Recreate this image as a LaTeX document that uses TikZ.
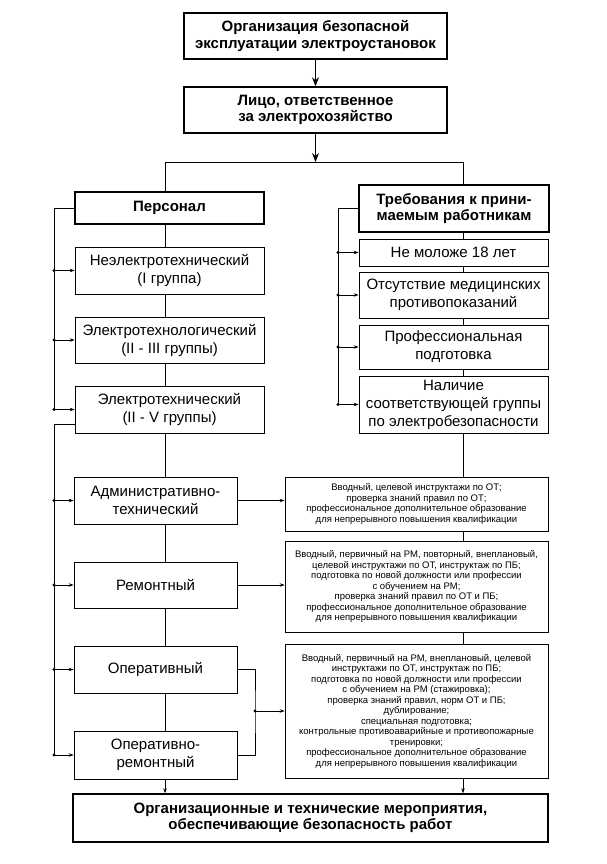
\documentclass[tikz,border=0pt]{standalone}
\usepackage{fontspec}
\setmainfont{Liberation Sans}
\usetikzlibrary{arrows.meta,calc}

\begin{document}
\begin{tikzpicture}[x=1pt,y=-1pt,
    mainbox/.style={draw, line width=1.4pt, align=center, inner sep=0pt,
        font=\bfseries\fontsize{15}{16.5}\selectfont},
    subbox/.style={draw, line width=0.7pt, align=center, inner sep=0pt,
        font=\fontsize{15}{18}\selectfont},
    notebox/.style={draw, line width=0.7pt, align=center, inner sep=0pt,
        font=\fontsize{9.5}{10.5}\selectfont},
    link/.style={line width=0.7pt},
    bigarrow/.style={line width=1pt, -{Stealth[length=9pt,width=7pt]}},
    smallarrow/.style={line width=0.7pt, -{Stealth[length=5pt,width=3.5pt]}}]
\useasboundingbox (0,0) rectangle (606,864);

% top of the chart
\node[mainbox, minimum width=263pt, minimum height=46pt] (org) at (315.5,36)
    {Организация безопасной\\эксплуатации электроустановок};
\node[mainbox, minimum width=263pt, minimum height=46pt] (life) at (315.5,110)
    {Лицо, ответственное\\за электрохозяйство};

% left column: personnel
\node[mainbox, minimum width=189pt, minimum height=32pt] (pers) at (169.5,208) {Персонал};
\node[subbox, minimum width=189pt, minimum height=47pt] (neel) at (169.5,270.5)
    {Неэлектротехнический\\(I группа)};
\node[subbox, minimum width=189pt, minimum height=46pt] (etl) at (169.5,340)
    {Электротехнологический\\(II - III группы)};
\node[subbox, minimum width=189pt, minimum height=47pt] (et) at (169.5,409.5)
    {Электротехнический\\(II - V группы)};
\node[subbox, minimum width=163pt, minimum height=47pt] (adm) at (155.5,500.5)
    {Административно-\\технический};
\node[subbox, minimum width=163pt, minimum height=46pt] (rem) at (155.5,585) {Ремонтный};
\node[subbox, minimum width=163pt, minimum height=47pt] (oper) at (155.5,669.5) {Оперативный};
\node[subbox, minimum width=163pt, minimum height=48pt] (operrem) at (155.5,755)
    {Оперативно-\\ремонтный};

% right column: requirements
\node[mainbox, minimum width=190pt, minimum height=47pt] (treb) at (454,208.5)
    {Требования к прини-\\маемым работникам};
\node[subbox, minimum width=189pt, minimum height=27pt] (age) at (453.5,252.5) {Не моложе 18 лет};
\node[subbox, minimum width=189pt, minimum height=46pt] (med) at (453.5,295)
    {Отсутствие медицинских\\противопоказаний};
\node[subbox, minimum width=189pt, minimum height=44pt] (prof) at (453.5,347)
    {Профессиональная\\подготовка};
\node[subbox, minimum width=189pt, minimum height=57pt] (grp) at (453.5,404.5)
    {Наличие\\соответствующей группы\\по электробезопасности};

% training notes
\node[notebox, minimum width=263pt, minimum height=54pt] (note1) at (416.5,504)
    {Вводный, целевой инструктажи по ОТ;\\проверка знаний правил по ОТ;\\
     профессиональное дополнительное образование\\для непрерывного повышения квалификации};
\node[notebox, minimum width=263pt, minimum height=91pt] (note2) at (416.5,586.5)
    {Вводный, первичный на РМ, повторный, внеплановый,\\
     целевой инструктажи по ОТ, инструктаж по ПБ;\\
     подготовка по новой должности или профессии\\с обучением на РМ;\\
     проверка знаний правил по ОТ и ПБ;\\
     профессиональное дополнительное образование\\для непрерывного повышения квалификации};
\node[notebox, minimum width=263pt, minimum height=134pt] (note3) at (416.5,711)
    {Вводный, первичный на РМ, внеплановый, целевой\\
     инструктажи по ОТ, инструктаж по ПБ;\\
     подготовка по новой должности или профессии\\с обучением на РМ (стажировка);\\
     проверка знаний правил, норм ОТ и ПБ;\\дублирование;\\специальная подготовка;\\
     контрольные противоаварийные и противопожарные\\тренировки;\\
     профессиональное дополнительное образование\\для непрерывного повышения квалификации};

\node[mainbox, minimum width=475pt, minimum height=48pt] (measures) at (310.5,818)
    {Организационные и технические мероприятия,\\обеспечивающие безопасность работ};

% helper coordinates
\coordinate (xl) at (165,0);
\coordinate (xr) at (463,0);
\coordinate (busL) at (54,0);
\coordinate (busR) at (338,0);
\coordinate (fork) at (315.5,162);
\coordinate (jn) at (255,711);

% spine
\draw[bigarrow] (org) -- (life);
\draw[bigarrow] (life) -- (fork);
\draw[link] (pers.north -| xl) -- (xl |- fork) -- (xr |- fork) -- (treb.north -| xr);
\foreach \a/\b in {pers/neel,neel/etl,etl/et,et/adm,adm/rem,rem/oper,oper/operrem}
    \draw[link] (\a.south -| xl) -- (\b.north -| xl);
\foreach \a/\b in {treb/age,age/med,med/prof,prof/grp,grp/note1,note1/note2,note2/note3}
    \draw[link] (\a.south -| xr) -- (\b.north -| xr);
\draw[smallarrow] (operrem.south -| xl) -- (measures.north -| xl);
\draw[smallarrow] (note3.south -| xr) -- (measures.north -| xr);

% side buses
\draw[link] (pers.west) -| (et.west -| busL);
\foreach \n in {neel,etl,et} {
    \draw[smallarrow] (\n.west -| busL) -- (\n.west);
    \fill (\n.west -| busL) circle (1.7pt);
}
\draw[link] ([yshift=9pt]et.south west) -| (operrem.west -| busL);
\foreach \n in {adm,rem,oper,operrem} {
    \draw[smallarrow] (\n.west -| busL) -- (\n.west);
    \fill (\n.west -| busL) circle (1.7pt);
}
\draw[link] (treb.west) -| (grp.west -| busR);
\foreach \n in {age,med,prof,grp} {
    \draw[smallarrow] (\n.west -| busR) -- (\n.west);
    \fill (\n.west -| busR) circle (1.7pt);
}

% personnel to training
\draw[smallarrow] (adm.east) -- (adm.east -| note1.west);
\draw[smallarrow] (rem.east) -- (rem.east -| note2.west);
\draw[link] (oper.east) -| (jn) |- (operrem.east);
\draw[smallarrow] (jn) -- (jn -| note3.west);
\fill (jn) circle (1.7pt);
\end{tikzpicture}
\end{document}
